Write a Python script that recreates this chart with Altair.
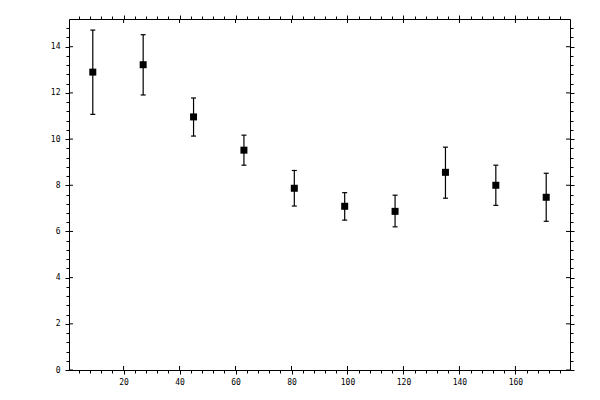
import altair as alt
import pandas as pd

# data
x_centers = [9, 27, 45, 63, 81, 99, 117, 135, 153, 171]
y_values = [12.90, 13.22, 10.96, 9.52, 7.87, 7.09, 6.87, 8.56, 8.00, 7.48]
y_upper = [14.72, 14.52, 11.78, 10.17, 8.64, 7.68, 7.57, 9.65, 8.87, 8.52]
y_lower = [11.07, 11.91, 10.13, 8.87, 7.10, 6.49, 6.20, 7.44, 7.13, 6.44]

# axis ticks (major every 20 / 2, minor every 4 / 0.4)
x_ticks = list(range(4, 180, 4))
y_ticks = [round(0.4 * i, 1) for i in range(0, 38)]
x_major = [20, 40, 60, 80, 100, 120, 140, 160]
y_major = [0, 2, 4, 6, 8, 10, 12, 14]

W, H = 501, 351

df = pd.DataFrame({"x": x_centers, "y": y_values, "hi": y_upper, "lo": y_lower})
dfx = pd.DataFrame({"v": x_major})
dfy = pd.DataFrame({"v": y_major})

FONT = "DejaVu Sans Mono"
xmaj = "datum.value % 20 === 0"
ymaj = "abs(datum.value / 2 - round(datum.value / 2)) < 0.001"

xscale = alt.Scale(domain=[0.5, 179.5], nice=False, zero=False)
yscale = alt.Scale(domain=[0, 15.2], nice=False, zero=False)

common = dict(
    tickColor="black", tickWidth=1, domainColor="black", domainWidth=1,
    grid=False, title=None, labelOverlap=False, labelFlush=False, labelBound=False,
    labelFont=FONT, labelFontSize=8, labelColor="black",
)

x_bottom = alt.Axis(orient="bottom", values=x_ticks, labelPadding=4,
                    tickSize={"condition": {"test": xmaj, "value": 4}, "value": 3},
                    labelExpr=f"{xmaj} ? toString(datum.value) : ''", **common)
x_top = alt.Axis(orient="top", values=x_ticks, labels=False,
                 tickSize={"condition": {"test": xmaj, "value": 4}, "value": 3}, **common)
y_left = alt.Axis(orient="left", values=y_ticks, labelPadding=5,
                  tickSize={"condition": {"test": ymaj, "value": 4}, "value": 3},
                  labelExpr=f"{ymaj} ? toString(round(datum.value)) : ''", **common)
y_right = alt.Axis(orient="right", values=y_ticks, labels=False,
                   tickSize={"condition": {"test": ymaj, "value": 4}, "value": 3}, **common)

base = alt.Chart(df)

bars = base.mark_rule(color="black", strokeWidth=1.2).encode(
    x=alt.X("x:Q", scale=xscale, axis=x_bottom),
    y=alt.Y("lo:Q", scale=yscale, axis=y_left),
    y2="hi:Q",
)

cap_hi = base.mark_rule(color="black", strokeWidth=1.2, xOffset=-2.5, x2Offset=2.5).encode(
    x=alt.X("x:Q", scale=xscale, axis=None), x2="x:Q",
    y=alt.Y("hi:Q", scale=yscale, axis=None),
)
cap_lo = base.mark_rule(color="black", strokeWidth=1.2, xOffset=-2.5, x2Offset=2.5).encode(
    x=alt.X("x:Q", scale=xscale, axis=None), x2="x:Q",
    y=alt.Y("lo:Q", scale=yscale, axis=None),
)

pts = base.mark_square(size=49, color="black", opacity=1, filled=True).encode(
    x=alt.X("x:Q", scale=xscale, axis=x_top),
    y=alt.Y("y:Q", scale=yscale, axis=y_right),
)

# inward halves of the major ticks
tb = alt.Chart(dfx).mark_rule(color="black", strokeWidth=1).encode(
    x=alt.X("v:Q", scale=xscale, axis=None), y=alt.value(H), y2=alt.value(H - 4))
tt = alt.Chart(dfx).mark_rule(color="black", strokeWidth=1).encode(
    x=alt.X("v:Q", scale=xscale, axis=None), y=alt.value(0), y2=alt.value(4))
tl = alt.Chart(dfy).mark_rule(color="black", strokeWidth=1).encode(
    y=alt.Y("v:Q", scale=yscale, axis=None), x=alt.value(0), x2=alt.value(4))
tr = alt.Chart(dfy).mark_rule(color="black", strokeWidth=1).encode(
    y=alt.Y("v:Q", scale=yscale, axis=None), x=alt.value(W), x2=alt.value(W - 4))

chart = alt.layer(bars, cap_hi, cap_lo, pts, tb, tt, tl, tr).resolve_axis(
    x="independent", y="independent"
).properties(
    width=W, height=H,
    padding={"left": 61, "top": 11, "right": 20, "bottom": 22},
    autosize=alt.AutoSizeParams(type="none"),
).configure_view(stroke=None).configure(background="white")

chart.save("out.html", embed_options={"renderer": "svg", "actions": False})
